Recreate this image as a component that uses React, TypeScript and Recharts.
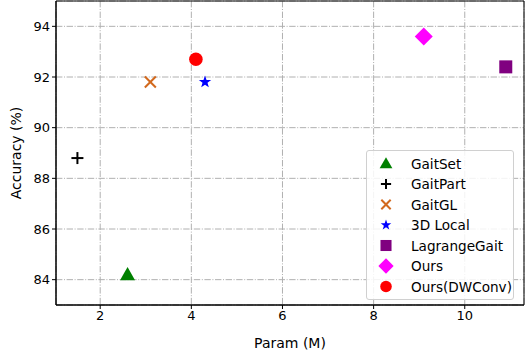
import React from 'react';
import { ScatterChart, Scatter, XAxis, YAxis, CartesianGrid, ReferenceArea } from 'recharts';

const methods = ['GaitSet', 'GaitPart', 'GaitGL', '3D Local', 'LagrangeGait', 'Ours', 'Ours(DWConv)'];
const params = [2.6, 1.5, 3.1, 4.3, 10.9, 9.1, 4.1];
const accuracy = [84.2, 88.8, 91.8, 91.8, 92.4, 93.6, 92.7];
const colors = ['#008000', '#000000', '#d2691e', '#0000ff', '#800080', '#ff00ff', '#ff0000'];
const markers = ['triangle', 'plus', 'x', 'star', 'square', 'diamond', 'circle'];
const xTicks = [2, 4, 6, 8, 10];
const yTicks = [84, 86, 88, 90, 92, 94];

const FONT = 'DejaVu Sans, sans-serif';

function Marker({ type, cx, cy, color, scale = 1 }: { type: string; cx: number; cy: number; color: string; scale?: number }) {
  const s = scale;
  switch (type) {
    case 'triangle': {
      const r = 7.5 * s;
      return <polygon points={`${cx},${cy - r} ${cx + r},${cy + r * 0.75} ${cx - r},${cy + r * 0.75}`} fill={color} />;
    }
    case 'plus': {
      const r = 6 * s;
      return (
        <g stroke={color} strokeWidth={2}>
          <line x1={cx - r} y1={cy} x2={cx + r} y2={cy} />
          <line x1={cx} y1={cy - r} x2={cx} y2={cy + r} />
        </g>
      );
    }
    case 'x': {
      const r = 5.5 * s;
      return (
        <g stroke={color} strokeWidth={2}>
          <line x1={cx - r} y1={cy - r} x2={cx + r} y2={cy + r} />
          <line x1={cx - r} y1={cy + r} x2={cx + r} y2={cy - r} />
        </g>
      );
    }
    case 'star': {
      const R = 6.5 * s;
      const r = R * 0.4;
      const pts: string[] = [];
      for (let i = 0; i < 10; i++) {
        const rad = i % 2 === 0 ? R : r;
        const a = -Math.PI / 2 + (i * Math.PI) / 5;
        pts.push(`${cx + rad * Math.cos(a)},${cy + rad * Math.sin(a)}`);
      }
      return <polygon points={pts.join(' ')} fill={color} />;
    }
    case 'square': {
      const h = 6.5 * s;
      return <rect x={cx - h} y={cy - h} width={2 * h} height={2 * h} fill={color} />;
    }
    case 'diamond': {
      const r = 9 * s;
      return <polygon points={`${cx},${cy - r} ${cx + r},${cy} ${cx},${cy + r} ${cx - r},${cy}`} fill={color} />;
    }
    default:
      return <circle cx={cx} cy={cy} r={6.8 * s} fill={color} />;
  }
}

const seriesData = methods.map((m, i) => ({ name: m, data: [{ x: params[i], y: accuracy[i] }] }));

function LegendBox() {
  return (
    <div
      style={{
        position: 'absolute',
        left: 366,
        top: 150,
        width: 148,
        height: 150,
        border: '1px solid #d0d0d0',
        borderRadius: 3,
        background: 'rgba(255,255,255,0.85)',
        boxSizing: 'border-box',
      }}
    >
      <svg width={148} height={150} style={{ position: 'absolute', left: -1, top: -1 }}>
        {methods.map((m, i) => {
          const y = 13.5 + i * 20.5;
          return (
            <g key={m}>
              <Marker type={markers[i]} cx={20} cy={y} color={colors[i]} scale={0.85} />
              <text x={45} y={y + 5} fontSize={13.6} fontFamily={FONT} fill="#000">
                {m}
              </text>
            </g>
          );
        })}
      </svg>
    </div>
  );
}

export default function App() {
  return (
    <div style={{ position: 'absolute', left: 0, top: 0, width: 525, height: 356, background: '#fff' }}>
      <ScatterChart width={525} height={356} margin={{ top: 1, right: 1, bottom: 0, left: 0 }}>
        <CartesianGrid stroke="#b0b0b0" strokeDasharray="6.4 1.6 1 1.6" horizontal vertical />
        <XAxis
          type="number"
          dataKey="x"
          domain={[1.03, 11.3]}
          ticks={xTicks}
          allowDataOverflow
          height={51}
          stroke="#000"
          tickSize={4}
          tick={{ fill: '#000', fontSize: 13, fontFamily: FONT }}
          label={{ value: 'Param (M)', position: 'insideBottom', offset: 8, fill: '#000', fontSize: 14, fontFamily: FONT }}
        />
        <YAxis
          type="number"
          dataKey="y"
          domain={[83, 95]}
          ticks={yTicks}
          allowDataOverflow
          width={56}
          stroke="#000"
          tickSize={4}
          tick={{ fill: '#000', fontSize: 13, fontFamily: FONT }}
          label={{ value: 'Accuracy (%)', angle: -90, position: 'insideLeft', offset: 16, style: { textAnchor: 'middle' }, fill: '#000', fontSize: 14, fontFamily: FONT }}
        />
        <ReferenceArea x1={1.03} x2={11.3} y1={83} y2={95} fill="none" stroke="#000" strokeWidth={1} ifOverflow="visible" />
        {seriesData.map((s, i) => (
          <Scatter
            key={s.name}
            name={s.name}
            data={s.data}
            fill={colors[i]}
            isAnimationActive={false}
            shape={(p: any) => <Marker type={markers[i]} cx={p.cx} cy={p.cy} color={colors[i]} />}
          />
        ))}
      </ScatterChart>
      <LegendBox />
    </div>
  );
}
